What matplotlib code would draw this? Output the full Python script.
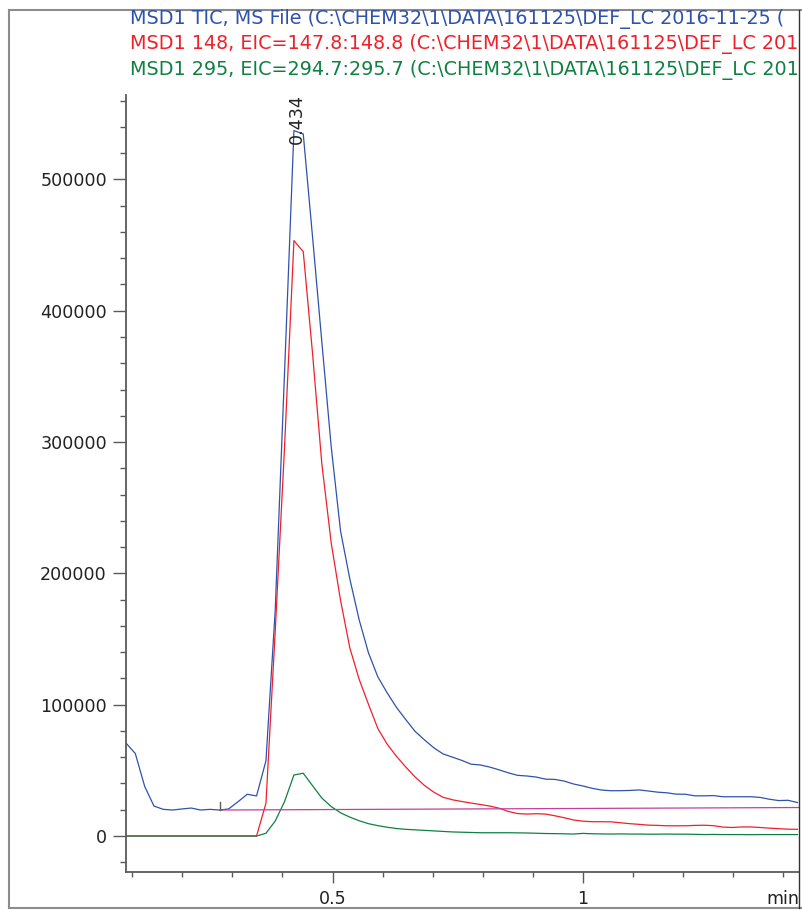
import matplotlib
matplotlib.use('Agg')
import matplotlib.pyplot as plt
from matplotlib.ticker import MultipleLocator
from matplotlib.lines import Line2D

# retention time grid (min)
times = [0.0874, 0.1060, 0.1248, 0.1433, 0.1620, 0.1806, 0.1992, 0.2178, 0.2364, 0.2552,
         0.2737, 0.2923, 0.3111, 0.3297, 0.3482, 0.3670, 0.3855, 0.4041, 0.4229, 0.4415,
         0.4601, 0.4786, 0.4974, 0.5160, 0.5346, 0.5533, 0.5719, 0.5904, 0.6090, 0.6278,
         0.6464, 0.6649, 0.6837, 0.7023, 0.7208, 0.7394, 0.7582, 0.7768, 0.7953, 0.8141,
         0.8327, 0.8513, 0.8698, 0.8886, 0.9071, 0.9257, 0.9445, 0.9631, 0.9817, 1.0002,
         1.0190, 1.0375, 1.0561, 1.0749, 1.0935, 1.1120, 1.1306, 1.1494, 1.1680, 1.1865,
         1.2053, 1.2239, 1.2425, 1.2610, 1.2798, 1.2984, 1.3169, 1.3357, 1.3543, 1.3728,
         1.3914, 1.4101, 1.4287]

# MSD1 TIC
tic = [70800, 62800, 37700, 22800, 20300, 19800, 20600, 21300, 19800, 20300,
       19800, 20600, 26100, 31800, 30500, 57300, 172000, 352600, 537200, 534600,
       456200, 376400, 296300, 232300, 195700, 164500, 139400, 121300, 109100, 97900,
       88600, 79700, 73200, 67200, 62500, 60100, 57600, 54700, 54100, 52500,
       50400, 48100, 46200, 45700, 44900, 43300, 43100, 41800, 39600, 38100,
       36300, 35000, 34500, 34500, 34700, 35100, 34300, 33400, 32900, 31900,
       31800, 30600, 30600, 30800, 29900, 29900, 29900, 29900, 29400, 28000,
       27000, 27200, 25500]

# MSD1 148, EIC=147.8:148.8
eic148 = [0, 0, 0, 0, 0, 0, 0, 0, 0, 0,
          0, 0, 0, 0, 0, 25000, 155800, 296000, 453400, 445000,
          367400, 283500, 223100, 179500, 143200, 119200, 100200, 82000, 70000, 60700,
          52500, 45000, 38500, 33400, 29500, 27600, 26300, 25100, 24000, 22800,
          21200, 18700, 17100, 16700, 17000, 16700, 15400, 13900, 12200, 11300,
          10900, 10900, 10800, 10100, 9400, 8900, 8300, 8100, 7800, 7800,
          7800, 8100, 8200, 7900, 6800, 6500, 6900, 6900, 6500, 6000,
          5600, 5200, 5100]

# MSD1 295, EIC=294.7:295.7
eic295 = [0, 0, 0, 0, 0, 0, 0, 0, 0, 0,
          0, 0, 0, 0, 0, 2100, 11400, 26200, 46500, 47800,
          38300, 28900, 22400, 17700, 14400, 11600, 9400, 7900, 6700, 5700,
          5100, 4700, 4300, 3900, 3500, 3100, 2900, 2700, 2500, 2500,
          2500, 2500, 2400, 2300, 2100, 1900, 1800, 1700, 1500, 2000,
          1700, 1600, 1500, 1600, 1500, 1500, 1400, 1400, 1500, 1400,
          1400, 1300, 1100, 1200, 1100, 1100, 1100, 1000, 1100, 1100,
          1100, 1100, 1100]

# integration baseline under the TIC peak
base_t = [0.2751, 1.4319]
base_v = [19800, 21700]
base_tick_top = 25900

peak_idx = 18
peak_label = '0.434'

titles = ['MSD1 TIC, MS File (C:\\CHEM32\\1\\DATA\\161125\\DEF_LC 2016-11-25 (',
          'MSD1 148, EIC=147.8:148.8 (C:\\CHEM32\\1\\DATA\\161125\\DEF_LC 201',
          'MSD1 295, EIC=294.7:295.7 (C:\\CHEM32\\1\\DATA\\161125\\DEF_LC 201']

yticks = [0, 100000, 200000, 300000, 400000, 500000]
xticks = [0.5, 1.0]
xticklabels = ['0.5', '1']

blue = '#2f52ac'
red = '#f0202a'
green = '#108042'
magenta = '#c2409e'
axcol = '#5a5a5a'
fs = 12.6
fs_title = 13.8

plt.rcParams['font.family'] = ['DejaVu Sans']

fig = plt.figure(figsize=(8.03, 9.11), dpi=100)
ax = fig.add_axes([126 / 803, 39 / 911, 673 / 803, 777 / 911])

ax.plot(times, tic, color=blue, lw=0.9)
ax.plot(times, eic148, color=red, lw=0.9)
ax.plot(times, eic295, color=green, lw=0.9)
ax.plot(base_t, base_v, color=magenta, lw=0.9)
ax.plot([base_t[0], base_t[0]], [base_v[0], base_tick_top], color=axcol, lw=1.0)

ax.annotate(peak_label, xy=(times[peak_idx], tic[peak_idx]), xytext=(2, -10),
            textcoords='offset points', rotation=90, ha='center', va='bottom',
            fontsize=fs, color='#222222', annotation_clip=False)

ax.set_xlim(0.0874, 1.4319)
ax.set_ylim(-27400, 564300)

for side in ['top', 'right']:
    ax.spines[side].set_visible(False)
for side in ['left', 'bottom']:
    ax.spines[side].set_color(axcol)
    ax.spines[side].set_linewidth(1.3)

ax.set_xticks(xticks)
ax.set_xticklabels(xticklabels)
ax.xaxis.set_minor_locator(MultipleLocator(0.1))
ax.set_yticks(yticks)
ax.set_yticklabels([str(v) for v in yticks])
ax.yaxis.set_minor_locator(MultipleLocator(20000))

ax.tick_params(axis='y', which='major', length=9.4, width=1.0, pad=4.3,
               color=axcol, labelsize=fs, labelcolor='#222222')
ax.tick_params(axis='y', which='minor', length=4.3, width=1.0, color=axcol)
ax.tick_params(axis='x', which='major', length=7.7, width=1.0, pad=5,
               color=axcol, labelsize=fs, labelcolor='#222222')
ax.tick_params(axis='x', which='minor', length=3.6, width=1.0, color=axcol)

ax.annotate('min', xy=(1.4, 0), xycoords=('data', 'axes fraction'),
            xytext=(0, -12.7), textcoords='offset points', ha='center', va='top',
            fontsize=fs, color='#222222', annotation_clip=False)

for k, (txt, col) in enumerate(zip(titles, [blue, red, green])):
    fig.text(130 / 803, 1 - (19 + 25.5 * k) / 911, txt, color=col,
             fontsize=fs_title, va='center', ha='left')

# outer frame
fx0, fx1, fxr = 9 / 803, 1.0, 799.5 / 803
fy0, fy1 = 1 - 908 / 911, 1 - 10 / 911
frame = '#8c8c8c'
fig.add_artist(Line2D([fx0, fx1], [fy1, fy1], transform=fig.transFigure, color=frame, lw=1.5))
fig.add_artist(Line2D([fx0, fx1], [fy0, fy0], transform=fig.transFigure, color=frame, lw=1.5))
fig.add_artist(Line2D([fx0, fx0], [fy0, fy1], transform=fig.transFigure, color=frame, lw=1.5))
fig.add_artist(Line2D([fxr, fxr], [fy0, fy1], transform=fig.transFigure, color='#333333', lw=1.0))

fig.savefig('out.png', dpi=100)
